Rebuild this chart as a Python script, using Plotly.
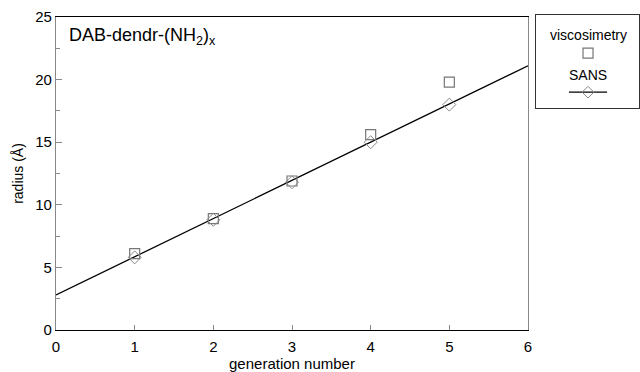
import plotly.graph_objects as go

generation = [1, 2, 3, 4, 5]
viscosimetry = [6.1, 8.9, 11.9, 15.6, 19.8]
sans = [5.8, 8.8, 11.8, 15.0, 18.0]
fit_x = [0, 6]
fit_y = [2.8, 21.1]

W, H = 640, 372
FONT = "Liberation Sans, Arial, sans-serif"

fig = go.Figure()
fig.add_trace(go.Scatter(x=fit_x, y=fit_y, mode="lines",
                         line=dict(color="black", width=1.3), showlegend=False))
fig.add_trace(go.Scatter(x=generation, y=viscosimetry, mode="markers",
                         marker=dict(symbol="square-open", size=10, color="#777",
                                     line=dict(width=1.2, color="#777")),
                         showlegend=False))
fig.add_trace(go.Scatter(x=generation, y=sans, mode="markers",
                         marker=dict(symbol="diamond-open", size=10, color="#888",
                                     line=dict(width=1, color="#888")),
                         showlegend=False))

# legend symbols drawn in a small helper axis
fig.add_trace(go.Scatter(x=[0.505], y=[0.59], mode="markers", xaxis="x2", yaxis="y2",
                         marker=dict(symbol="square-open", size=10, color="#777",
                                     line=dict(width=1.2, color="#777")),
                         showlegend=False))
fig.add_trace(go.Scatter(x=[0.32, 0.69], y=[0.17, 0.17], mode="lines", xaxis="x2", yaxis="y2",
                         line=dict(color="black", width=1.2), showlegend=False))
fig.add_trace(go.Scatter(x=[0.505], y=[0.17], mode="markers", xaxis="x2", yaxis="y2",
                         marker=dict(symbol="diamond-open", size=9, color="#888",
                                     line=dict(width=1, color="#888")),
                         showlegend=False))

fig.update_layout(
    width=W, height=H, margin=dict(l=0, r=0, t=0, b=0),
    paper_bgcolor="white", plot_bgcolor="white",
    font=dict(family=FONT, size=15, color="black"),
    xaxis=dict(domain=[56 / W, 528 / W], range=[0, 6], tickvals=[0, 1, 2, 3, 4, 5, 6],
               showline=True, linecolor="black", linewidth=1.2, mirror=True,
               ticks="inside", ticklen=5, tickcolor="#888", showgrid=False, zeroline=False,
               ticklabelstandoff=3,
               title=dict(text="generation number", font=dict(size=15), standoff=1),
               automargin=False),
    yaxis=dict(domain=[1 - 330 / H, 1 - 17 / H], range=[0, 25], tickvals=[0, 5, 10, 15, 20, 25],
               showline=True, linecolor="#888", linewidth=1.2, mirror=True,
               ticks="inside", ticklen=6, tickcolor="#888", showgrid=False, zeroline=False,
               minor=dict(dtick=2.5, ticks="inside", ticklen=4, tickcolor="#888"),
               title=dict(text="radius (Å)", font=dict(size=14), standoff=8),
               automargin=False),
    xaxis2=dict(domain=[536 / W, 639 / W], range=[0, 1], showline=True, mirror=True,
                linecolor="#333", linewidth=1.2, showticklabels=False, ticks="",
                showgrid=False, zeroline=False, anchor="y2", fixedrange=True),
    yaxis2=dict(domain=[1 - 108 / H, 1 - 15 / H], range=[0, 1], showline=True, mirror=True,
                linecolor="#333", linewidth=1.2, showticklabels=False, ticks="",
                showgrid=False, zeroline=False, anchor="x2", fixedrange=True),
    annotations=[
        dict(text="DAB-dendr-(NH<sub>2</sub>)<sub>x</sub>", xref="paper", yref="paper",
             x=67 / W, y=1 - 36 / H, xanchor="left", yanchor="middle",
             showarrow=False, font=dict(size=18)),
        dict(text="viscosimetry", xref="x2", yref="y2", x=0.505, y=0.785,
             showarrow=False, font=dict(size=14)),
        dict(text="SANS", xref="x2", yref="y2", x=0.505, y=0.355,
             showarrow=False, font=dict(size=14)),
    ],
)

fig.write_html("out.html")
